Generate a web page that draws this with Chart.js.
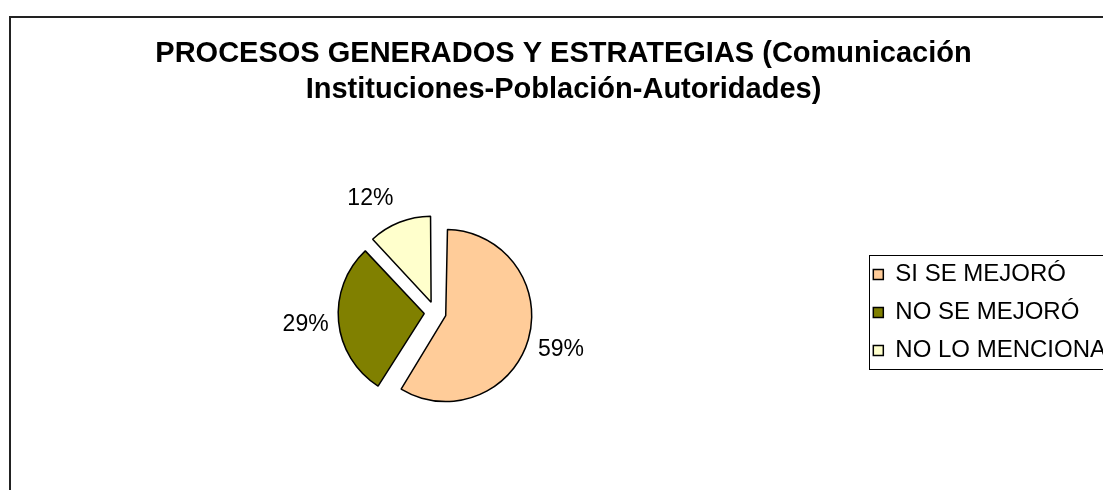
<!DOCTYPE html>
<html lang="es">
<head>
<meta charset="utf-8">
<script src="https://cdn.jsdelivr.net/npm/chart.js@4/dist/chart.umd.min.js"></script>
<style>
  html, body { margin: 0; padding: 0; background: #fff; overflow: hidden; }
  body { width: 1103px; height: 490px; position: relative; }
  /* Moldura do gráfico (maior que a janela, como no original) */
  #moldura {
    position: absolute; left: 9px; top: 16px;
    width: 1108px; height: 520px;
    border: 2px solid #222;
  }
  #grafico_pizza { display: block; }
</style>
</head>
<body>
<div id="moldura">
  <canvas id="grafico_pizza" width="1108" height="520"></canvas>
</div>
<script>
// --- Dados do gráfico ---
const titulo = ['PROCESOS GENERADOS Y ESTRATEGIAS (Comunicación', 'Instituciones-Población-Autoridades)'];
const categorias = ['SI SE MEJORÓ', 'NO SE MEJORÓ', 'NO LO MENCIONA'];
const valores = [59, 29, 12];
const cores = ['#FFCC99', '#808000', '#FFFFCC'];

const DESLOCAMENTO = 44; // offset do Chart.js (translada offset/4 px)

// Chart.js aumenta o raio das fatias grandes quando há offset; aqui compensamos
const ajusteRaio = {
  id: 'ajusteRaio',
  afterDatasetUpdate(chart, args) {
    args.meta.data.forEach(arco => {
      const circ = arco.endAngle - arco.startAngle;
      const fix = 1 - Math.sin(Math.min(Math.PI, circ));
      arco.outerRadius -= (arco.options.offset || 0) / 4 * fix;
    });
  }
};

// Rótulos de percentagem fora das fatias
const rotulosPercentagem = {
  id: 'rotulosPercentagem',
  afterDatasetsDraw(chart) {
    const meta = chart.getDatasetMeta(0);
    const total = valores.reduce((a, b) => a + b, 0);
    const ctx = chart.ctx;
    const altura = 17; // altura aproximada das maiúsculas
    ctx.save();
    ctx.font = "23px 'Liberation Sans', Arial, sans-serif";
    ctx.fillStyle = '#000';
    ctx.textBaseline = 'middle';
    meta.data.forEach((arco, i) => {
      const meio = (arco.startAngle + arco.endAngle) / 2;
      const desl = (arco.options.offset || 0) / 4;
      const cx = arco.x + Math.cos(meio) * desl;
      const cy = arco.y + Math.sin(meio) * desl;
      const circ = arco.endAngle - arco.startAngle;
      const raio = arco.outerRadius + desl * (1 - Math.sin(Math.min(Math.PI, circ)));
      const s = Math.sin(meio);
      const r = raio + 10 - 7 * Math.min(0, s); // rótulos de cima ficam um pouco mais afastados
      const px = cx + Math.cos(meio) * r;
      const py = cy + s * r + (altura / 2) * Math.max(-1, Math.min(1, 3 * s));
      ctx.textAlign = Math.cos(meio) >= 0 ? 'left' : 'right';
      ctx.fillText(Math.round(valores[i] / total * 100) + '%', px, py);
    });
    ctx.restore();
  }
};

// Caixa com borda à volta da legenda
const caixaLegenda = {
  id: 'caixaLegenda',
  afterDraw(chart) {
    const caixas = chart.legend && chart.legend.legendHitBoxes;
    if (!caixas || !caixas.length) return;
    const ctx = chart.ctx;
    const esq = Math.min(...caixas.map(h => h.left)) - 4;
    const topo = Math.min(...caixas.map(h => h.top)) - 8;
    const fundo = Math.max(...caixas.map(h => h.top + h.height)) + 6;
    ctx.save();
    ctx.strokeStyle = '#000';
    ctx.lineWidth = 1;
    ctx.strokeRect(Math.round(esq) + 0.5, Math.round(topo) + 0.5, chart.width - esq + 20, Math.round(fundo - topo));
    ctx.restore();
  }
};

Chart.defaults.font.family = "'Liberation Sans', Arial, sans-serif";
Chart.defaults.color = '#000';

new Chart(document.getElementById('grafico_pizza'), {
  type: 'pie',
  data: {
    labels: categorias,
    datasets: [{
      data: valores,
      backgroundColor: cores,
      borderColor: '#000',
      borderWidth: 1.5,
      offset: DESLOCAMENTO
    }]
  },
  options: {
    responsive: false,
    animation: false,
    radius: 86,
    layout: { padding: { left: 0, right: 3, top: 0, bottom: 31 } },
    plugins: {
      tooltip: { enabled: false },
      title: {
        display: true,
        text: titulo,
        color: '#000',
        font: { size: 29, weight: 'bold', lineHeight: 1.2414 },
        padding: { top: 18, bottom: 10 }
      },
      legend: {
        position: 'right',
        fullSize: false,
        labels: {
          color: '#000',
          font: { size: 24 },
          boxWidth: 10,
          boxHeight: 10,
          padding: 14
        }
      }
    }
  },
  plugins: [ajusteRaio, rotulosPercentagem, caixaLegenda]
});
</script>
</body>
</html>
